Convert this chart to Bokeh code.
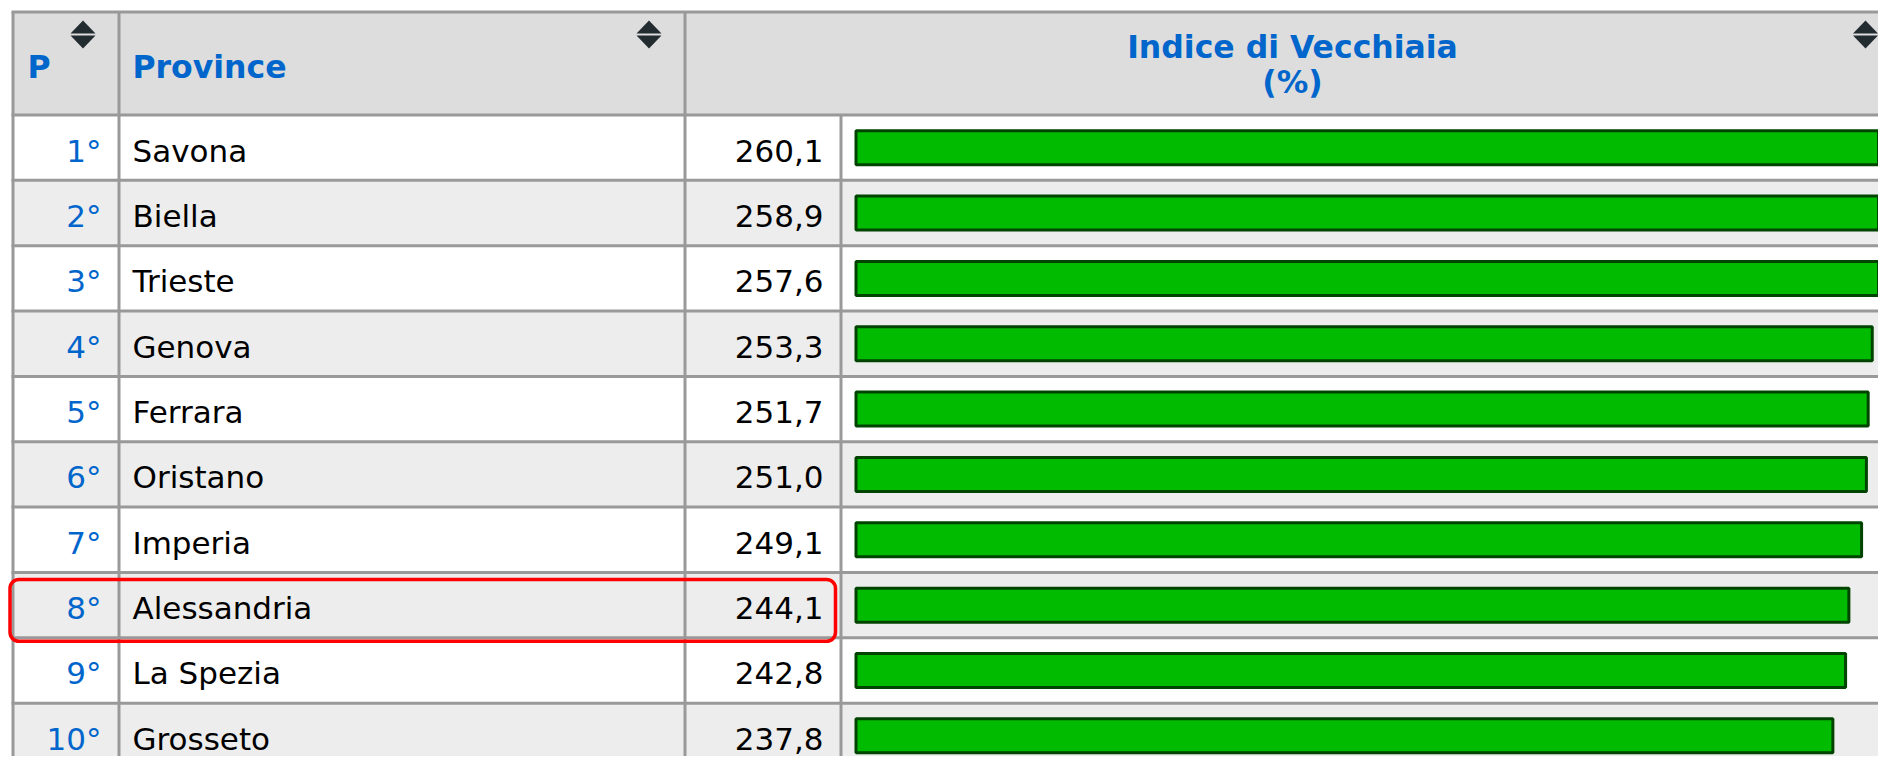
from bokeh.plotting import figure
from bokeh.models import Range1d, BoxAnnotation
from bokeh.embed import file_html
from bokeh.resources import INLINE
from bokeh.core.properties import value

# ---------------- data ----------------
ranks = ["1°", "2°", "3°", "4°", "5°", "6°", "7°", "8°", "9°", "10°"]
provinces = ["Savona", "Biella", "Trieste", "Genova", "Ferrara",
             "Oristano", "Imperia", "Alessandria", "La Spezia", "Grosseto"]
indice = [260.1, 258.9, 257.6, 253.3, 251.7, 251.0, 249.1, 244.1, 242.8, 237.8]
col_headers = ["P", "Province"]
title_lines = ["Indice di Vecchiaia", "(%)"]
highlight = "Alessandria"

value_labels = [f"{v:.1f}".replace(".", ",") for v in indice]

# ---------------- layout constants (picture pixels) ----------------
W, H = 1878, 756
X0, Y0 = 0, 0
TABLE_L, TABLE_T, TABLE_R = 12.5, 11.5, 1897
HEAD_B = 114.5
PITCH = 65.35
COL_X = [12.5, 118.5, 684.5, 840.5]
BORDER = "#999999"
FONT = value("DejaVu Sans")
REG = "31px"
BOLD = "31.5px"
BLUE = "#0066CC"
TEXT_DY = 3

# bar scale: value units -> pixels
PX_PER_UNIT = 2.54
BAR_LEFT_PX = 855.5
BAR_BASE = -146.8

n = len(provinces)
row_top = [HEAD_B + PITCH * i for i in range(n)]
row_bot = [t + PITCH for t in row_top]
row_mid = [t + PITCH / 2 for t in row_top]
baseline = [m + TEXT_DY for m in row_mid]

p = figure(width=W, height=H, output_backend="svg", toolbar_location=None,
           x_range=Range1d(X0, X0 + W), y_range=Range1d(Y0 + H, Y0),
           x_axis_location=None, y_axis_location=None, min_border=0)
p.grid.visible = False
p.outline_line_color = None
p.background_fill_color = "white"
p.border_fill_color = "white"

bar_range = Range1d(BAR_BASE + (X0 - BAR_LEFT_PX) / PX_PER_UNIT,
                    BAR_BASE + (X0 + W - BAR_LEFT_PX) / PX_PER_UNIT)
p.extra_x_ranges = {"bar": bar_range}

# backgrounds
p.quad(left=TABLE_L, right=TABLE_R, top=TABLE_T, bottom=HEAD_B,
       fill_color="#DDDDDD", line_color=None)
p.quad(left=[TABLE_L] * n, right=[TABLE_R] * n, top=row_top, bottom=row_bot,
       fill_color=["#FFFFFF" if i % 2 == 0 else "#EDEDED" for i in range(n)],
       line_color=None)

# bars
p.hbar(y=row_mid, left=BAR_BASE, right=indice, height=34, x_range_name="bar",
       fill_color="#00BB00", line_color="#004400", line_width=3)

# grid lines
h_ys = [TABLE_T] + [HEAD_B] + row_bot
p.segment(x0=[11] * len(h_ys), x1=[TABLE_R] * len(h_ys), y0=h_ys, y1=h_ys,
          line_color=BORDER, line_width=3)
v_top = [TABLE_T, TABLE_T, TABLE_T, HEAD_B]
p.segment(x0=COL_X, x1=COL_X, y0=v_top, y1=[row_bot[-1] + 5] * 4,
          line_color=BORDER, line_width=3)

# header texts
p.text(x=[27, 132], y=[66, 66], text=col_headers, text_align="left",
       text_baseline="alphabetic", text_color=BLUE, text_font=FONT,
       text_font_size=BOLD, text_font_style="bold")
p.text(x=[1292, 1292], y=[46, 81], text=title_lines, text_align="center",
       text_baseline="alphabetic", text_color=BLUE, text_font=FONT,
       text_font_size=BOLD, text_font_style="bold")

# sort icons
icon_cx = [82.5, 648.5, 1865]
xs, ys = [], []
for cx in icon_cx:
    xs.append([cx - 12.5, cx + 12.5, cx]); ys.append([33, 33, 20])
    xs.append([cx - 12.5, cx + 12.5, cx]); ys.append([35, 35, 48])
p.patches(xs=xs, ys=ys, fill_color="#222B30", line_color=None)

# body texts
p.text(x=[101] * n, y=baseline, text=ranks, text_align="right",
       text_baseline="alphabetic", text_color=BLUE, text_font=FONT,
       text_font_size=REG)
p.text(x=[132] * n, y=baseline, text=provinces, text_align="left",
       text_baseline="alphabetic", text_color="#000000", text_font=FONT,
       text_font_size=REG)
p.text(x=[823] * n, y=baseline, text=value_labels, text_align="right",
       text_baseline="alphabetic", text_color="#000000", text_font=FONT,
       text_font_size=REG)

# highlight box
hi = provinces.index(highlight)
box = BoxAnnotation(left=9.5, right=835, top=row_top[hi] + 7, bottom=row_bot[hi] + 3.5,
                    fill_alpha=0, line_color="#FF0000", line_alpha=1.0, line_width=3.5,
                    border_radius=9, level="overlay")
p.add_layout(box)

open("out.html", "w").write(file_html(p, INLINE))
